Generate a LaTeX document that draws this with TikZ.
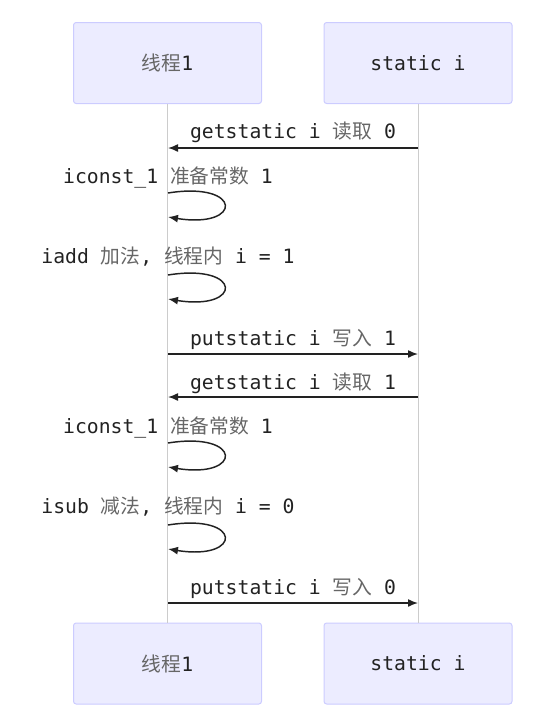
\documentclass[tikz,border=0pt]{standalone}
\usepackage{fontspec}
\setmainfont{DejaVu Sans Mono}
\newfontfamily\cjk{Noto Sans CJK SC}
\usetikzlibrary{arrows.meta}
\definecolor{actfill}{HTML}{ECECFF}
\definecolor{actline}{HTML}{CCCCFF}
\definecolor{lifeln}{HTML}{CCCCCC}
\definecolor{ink}{HTML}{222222}
\definecolor{zhink}{HTML}{666666}
\newcommand{\zh}[1]{{\cjk\color{zhink}#1}}
\tikzset{
  actor/.style={draw=actline, fill=actfill, rounded corners=2pt, line width=0.75pt,
    minimum width=141pt, minimum height=60.75pt, text=ink,
    font=\fontsize{14.8}{17}\selectfont},
  lifeline/.style={draw=lifeln, line width=0.75pt},
  msg/.style={-{Latex[length=7.5pt,width=6pt]}, draw=ink, line width=1.1pt},
  lbl/.style={anchor=base, text=ink, inner sep=0pt, font=\fontsize{14.8}{17}\selectfont}
}
\begin{document}
\begin{tikzpicture}[x=0.75pt,y=-0.75pt]
\useasboundingbox (0,0) rectangle (537,715);

\node[actor] (t1) at (167.5,63) {\zh{线程}1};
\node[actor] (si) at (418,63) {static i};
\node[actor] (t1b) at (167.5,663.5) {\zh{线程}1};
\node[actor] (sib) at (418,663.5) {static i};

\draw[lifeline] (t1.south) -- (t1b.north);
\draw[lifeline] (si.south) -- (sib.north);

\coordinate (g1a) at (418,148);
\coordinate (g1b) at (168,148);
\node[lbl] (l1) at (293,138) {getstatic i \zh{读取} 0};
\draw[msg] (g1a) -- (g1b);

\coordinate (c1a) at (168,193);
\coordinate (c1b) at (168,217);
\node[lbl] (l2) at (168,183) {iconst\_1 \zh{准备常数} 1};
\draw[msg] (c1a) .. controls +(75,-12) and +(75,12) .. (c1b);

\coordinate (a1a) at (168,275);
\coordinate (a1b) at (168,299);
\node[lbl] (l3) at (168,263) {iadd \zh{加法}, \zh{线程内} i = 1};
\draw[msg] (a1a) .. controls +(75,-12) and +(75,12) .. (a1b);

\coordinate (p1a) at (168,354);
\coordinate (p1b) at (418,354);
\node[lbl] (l4) at (293,345) {putstatic i \zh{写入} 1};
\draw[msg] (p1a) -- (p1b);

\coordinate (g2a) at (418,397);
\coordinate (g2b) at (168,397);
\node[lbl] (l5) at (293,389) {getstatic i \zh{读取} 1};
\draw[msg] (g2a) -- (g2b);

\coordinate (c2a) at (168,443);
\coordinate (c2b) at (168,467);
\node[lbl] (l6) at (168,433) {iconst\_1 \zh{准备常数} 1};
\draw[msg] (c2a) .. controls +(75,-12) and +(75,12) .. (c2b);

\coordinate (s1a) at (168,525);
\coordinate (s1b) at (168,549);
\node[lbl] (l7) at (168,513) {isub \zh{减法}, \zh{线程内} i = 0};
\draw[msg] (s1a) .. controls +(75,-12) and +(75,12) .. (s1b);

\coordinate (p2a) at (168,603);
\coordinate (p2b) at (418,603);
\node[lbl] (l8) at (293,594) {putstatic i \zh{写入} 0};
\draw[msg] (p2a) -- (p2b);
\end{tikzpicture}
\end{document}
